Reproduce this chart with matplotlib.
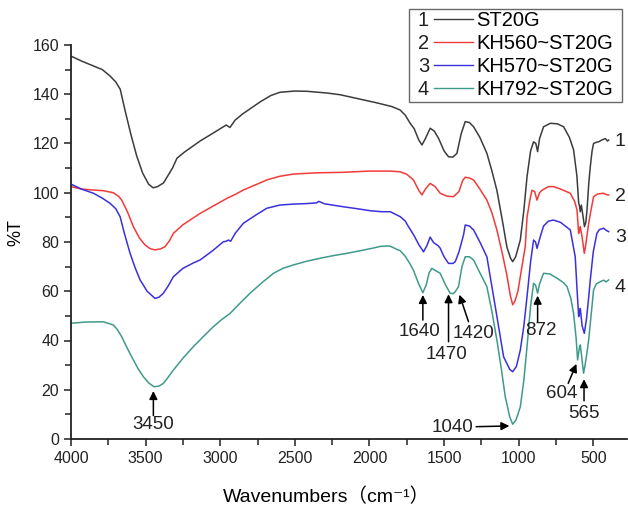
import matplotlib
matplotlib.use("Agg")
import matplotlib.pyplot as plt
from matplotlib.legend_handler import HandlerBase
from matplotlib.lines import Line2D
from matplotlib.text import Text
from matplotlib.path import Path
import numpy as np

plt.rcParams['font.family'] = ['Liberation Sans', 'DejaVu Sans', 'Noto Sans CJK SC']

# ---- data (wavenumber cm-1, %T) ----
wn_st20g = [4000, 3930, 3850, 3790, 3740, 3700, 3670, 3640, 3600, 3560, 3520, 3480, 3450, 3420,
            3380, 3350, 3320, 3290, 3240, 3135, 3040, 2960, 2935, 2900, 2850, 2790, 2730, 2660,
            2600, 2500, 2420, 2285, 2196, 2062, 1950, 1850, 1794, 1760, 1727, 1700, 1670, 1648,
            1625, 1593, 1565, 1537, 1500, 1470, 1440, 1414, 1385, 1358, 1330, 1302, 1260, 1213,
            1180, 1146, 1110, 1079, 1055, 1040, 1020, 989, 965, 944, 920, 900, 885, 873, 860,
            833, 788, 740, 699, 660, 632, 610, 598, 592, 587, 580, 570, 559, 550, 542, 530, 520,
            508, 498, 480, 464, 440, 419, 405, 397]
t_st20g = [155.5, 153.5, 151.5, 150, 147.5, 145, 142, 134, 124, 115, 108, 103.5, 102, 102.5,
           104, 107, 110, 114, 116.5, 121, 124.5, 127.5, 126.5, 129.5, 132, 134.5, 137, 139.5,
           140.8, 141.3, 141.2, 140.5, 139.8, 138, 136.5, 135, 133.6, 131.5, 128.2, 126, 121.5, 119.4,
           122, 126.2, 125, 122.1, 117, 114.6, 114.5, 116, 124, 128.9, 128.5, 126.8, 122.5, 116,
           109, 101, 89, 78, 73.5, 72, 74, 80.8, 93, 106.5, 117, 120.7, 120, 116.7, 122,
           126.8, 128.2, 128, 126.8, 122.5, 117.4, 107, 96, 94.5, 92.3, 95, 91, 86.2, 88, 93, 104, 110.6,
           117, 120, 120.5, 120.7, 121.5, 122, 121, 121.4]

wn_kh560 = [4000, 3930, 3850, 3780, 3716, 3680, 3660, 3620, 3582, 3540, 3504, 3470, 3437, 3400,
            3370, 3340, 3314, 3250, 3180, 3135, 3050, 2956, 2900, 2845, 2760, 2688, 2600, 2509,
            2350, 2174, 2000, 1861, 1794, 1750, 1705, 1670, 1648, 1625, 1593, 1560, 1526, 1480,
            1437, 1400, 1375, 1358, 1330, 1302, 1260, 1213, 1180, 1146, 1110, 1079, 1055, 1040,
            1025, 1005, 989, 970, 956, 944, 925, 911, 893, 877, 860, 844, 800, 767, 720, 654,
            625, 609, 598, 592, 587, 575, 560, 550, 531, 515, 498, 470, 431, 415, 397]
t_kh560 = [102.5, 101.5, 101.1, 100.8, 100, 98.5, 97, 92, 86.2, 81.5, 78.8, 77.3, 76.8, 77.2,
           78.1, 80.5, 83.5, 87, 89.8, 91.6, 94.5, 97.7, 99.3, 101.1, 103.3, 105.2, 106.7, 107.6,
           108.1, 108.3, 108.8, 108.8, 108.5, 107.5, 105.2, 101, 99.1, 101.5, 103.8, 102.5, 99.8, 98.6,
           98.4, 100.5, 105, 106.3, 106, 105.2, 101.5, 97, 92, 84.9, 75.5, 66.5, 58, 54.5,
           56, 60, 65.9, 73, 78, 90, 97, 101, 100.5, 97, 100, 101, 102.5, 102.5, 101.5, 99.8,
           96.5, 93, 83.5, 85, 86.2, 82, 75.4, 79, 87.6, 93, 98.4, 99.5, 99.8, 99.3, 99.1]

wn_kh570 = [4000, 3930, 3850, 3790, 3738, 3700, 3671, 3640, 3604, 3570, 3537, 3490, 3437, 3410,
            3381, 3350, 3314, 3250, 3180, 3135, 3050, 2979, 2960, 2945, 2930, 2900, 2845, 2760,
            2688, 2600, 2509, 2420, 2353, 2340, 2300, 2174, 2080, 1995, 1920, 1861, 1794, 1760,
            1738, 1700, 1670, 1648, 1638, 1615, 1593, 1571, 1540, 1526, 1500, 1470, 1440, 1425,
            1400, 1369, 1358, 1330, 1302, 1260, 1213, 1168, 1130, 1101, 1060, 1040, 1015, 989,
            965, 944, 920, 900, 887, 877, 865, 855, 833, 800, 767, 720, 654, 621, 610, 598, 592,
            587, 575, 560, 545, 530, 520, 500, 476, 460, 431, 415, 397]
t_kh570 = [103.5, 101.5, 99.8, 97.8, 95.7, 93.5, 90.3, 83, 75.4, 69.5, 64.6, 60, 57.1, 57.6,
           59.2, 62, 65.9, 69.3, 71.5, 72.7, 76.5, 80.1, 80.3, 80.8, 80.3, 83.5, 87.6, 91,
           93.7, 95, 95.4, 95.6, 95.9, 96.5, 95.5, 94.3, 93.5, 92.7, 92.3, 92.3, 90.3, 88.5,
           86.2, 82.5, 79, 77, 76, 78.5, 82, 79.8, 78.5, 77.5, 74, 71.3, 71.3, 72,
           76, 83, 86.9, 86.5, 84.9, 80, 74, 57.8, 44, 33.4, 28.3, 27.3, 29.5, 36.1,
           46, 57.8, 72, 80.8, 80, 77.4, 80, 82.2, 86.5, 88.5, 88.9, 88, 84.9, 74, 62, 49.7, 51,
           53, 46, 42.9, 49, 58, 64.6, 76, 83.5, 85, 85.6, 84.8, 84.2]

wn_kh792 = [4000, 3900, 3783, 3716, 3690, 3660, 3620, 3582, 3550, 3515, 3480, 3443, 3410, 3381,
            3350, 3314, 3250, 3180, 3110, 3046, 2990, 2934, 2870, 2800, 2720, 2643, 2580, 2509,
            2420, 2330, 2240, 2151, 2050, 1970, 1928, 1880, 1861, 1816, 1794, 1760, 1727, 1705,
            1670, 1642, 1620, 1600, 1582, 1560, 1526, 1490, 1459, 1440, 1425, 1403, 1380, 1358,
            1330, 1302, 1260, 1213, 1180, 1146, 1115, 1090, 1060, 1040, 1020, 1005, 989, 965,
            944, 920, 900, 887, 873, 860, 833, 790, 743, 700, 676, 650, 632, 615, 605, 598, 592,
            587, 575, 565, 555, 540, 531, 515, 498, 480, 453, 430, 415, 397]
t_kh792 = [47, 47.5, 47.6, 46.3, 44.5, 41.5, 36.5, 32.1, 28.5, 25.3, 22.8, 21.2, 21.5, 22.6,
           25, 28, 32.8, 37.5, 41.8, 45.6, 48.5, 51, 55, 59.2, 63.5, 67.3, 69.3, 70.7,
           72.2, 73.4, 74.5, 75.4, 76.6, 77.6, 78.2, 78.4, 78.3, 77, 76.5, 74.2, 71, 68.5,
           63, 59.4, 62.5, 67.5, 69.3, 68.5, 67.3, 62.5, 59.2, 59, 59.8, 61.9, 70, 74,
           74, 72.7, 67.5, 61.9, 52, 40.2, 28, 17.2, 9, 6, 7.5, 10, 13.1, 24,
           37.5, 54, 63.2, 62.5, 59.2, 63, 67.3, 67, 65.3, 63.5, 61.9, 57, 51, 41, 32.1, 35, 37.5,
           38.2, 32, 26.7, 30, 36, 40.2, 50, 60.5, 63, 63.9, 64.5, 63.8, 64.6]

series_names = ['ST20G', 'KH560~ST20G', 'KH570~ST20G', 'KH792~ST20G']
series_nums = ['1', '2', '3', '4']
colors = ['#3c3c3c', '#f23a3a', '#3b30dc', '#3f9a8a']

# peak labels: text, arrow tip (wn, %T), arrow tail, text position
peak_labels = ['3450', '1640', '1470', '1420', '872', '1040', '604', '565']
peak_tips = [(3448, 19.5), (1642, 58.5), (1470, 58.8), (1397, 58.6), (873, 58.2), (1062, 5.3), (613, 30.5), (562, 24.3)]
peak_tails = [(3448, 9.5), (1642, 48.3), (1470, 39.5), (1336, 47.6), (873, 47.6), (1285, 5.0), (668, 22.6), (562, 15.5)]
peak_text = [(3450, 5.8), (1665, 43.5), (1481, 34.3), (1300, 43.0), (852, 44.2), (1445, 4.5), (710, 18.5), (560, 10.2)]

# ---- figure ----
fig = plt.figure(figsize=(6.28, 5.07), dpi=100)
ax = fig.add_axes([71 / 628, 68 / 507, 556 / 628, 394 / 507])

xs = [wn_st20g, wn_kh560, wn_kh570, wn_kh792]
ys = [t_st20g, t_kh560, t_kh570, t_kh792]
lines = []
for x, y, c, name in zip(xs, ys, colors, series_names):
    ln, = ax.plot(x, y, color=c, lw=1.1, label=name)
    lines.append(ln)

# curve numbers at right end
end_y = [121, 98.5, 82, 61.5]
for n, yv in zip(series_nums, end_y):
    ax.text(319, yv, n, fontsize=14, ha='center', va='center', color='#222222')

for lab, tip, tail, tp in zip(peak_labels, peak_tips, peak_tails, peak_text):
    ax.annotate('', xy=tip, xytext=tail,
                arrowprops=dict(arrowstyle='-|>', color='black', lw=1.1,
                                mutation_scale=12, shrinkA=0, shrinkB=0))
    ax.text(tp[0], tp[1], lab, fontsize=13.5, ha='center', va='center', color='#222222')

ax.set_xlim(4000, 274)
ax.set_ylim(0, 160)
ax.set_xticks(np.arange(4000, 499, -500))
ax.set_xticks(np.arange(3750, 300, -500), minor=True)
ax.set_yticks(np.arange(0, 161, 20))
ax.set_yticks(np.arange(10, 160, 20), minor=True)
ax.tick_params(which='both', direction='out', labelsize=11.5, colors='#222222')
ax.tick_params(which='major', length=5, width=1.1)
ax.tick_params(which='minor', length=4, width=1.1)
for s in ['top', 'right']:
    ax.spines[s].set_visible(False)
for s in ['left', 'bottom']:
    ax.spines[s].set_linewidth(1.3)
    ax.spines[s].set_color('#222222')

ax.set_xlabel('Wavenumbers（cm⁻¹）', fontsize=14)
ax.xaxis.set_label_coords(0.459, -0.147)
ax.xaxis.label.set_va('center')
ax.set_ylabel('%T', fontsize=13)
ax.yaxis.set_label_coords(-0.1, 0.525)
ax.yaxis.label.set_va('center')


class NumHandler(HandlerBase):
    def __init__(self, num):
        super().__init__()
        self.num = num

    def create_artists(self, legend, orig_handle, xdescent, ydescent, width, height, fontsize, trans):
        t = Text(-xdescent, -ydescent, self.num, fontsize=fontsize,
                 ha='left', va='baseline', color='#222222', transform=trans)
        x0 = -xdescent + 0.8 * fontsize
        l = Line2D([x0, width - xdescent], [height / 2 - ydescent] * 2,
                   color=orig_handle.get_color(), lw=1.0, transform=trans)
        return [t, l]


def wide_box(x0, y0, width, height, mutation_size, padx=0.45, pady=0.12):
    # square frame with more room left/right than top/bottom
    px, py = padx * mutation_size, pady * mutation_size
    x0, y0 = x0 - px, y0 - py
    x1, y1 = x0 + width + 2 * px, y0 + height + 2 * py
    return Path([(x0, y0), (x1, y0), (x1, y1), (x0, y1), (x0, y0)], closed=True)


leg = ax.legend(lines, series_names,
                handler_map={ln: NumHandler(n) for ln, n in zip(lines, series_nums)},
                loc='upper right', bbox_to_anchor=(613 / 628, 1 - 11 / 507),
                bbox_transform=fig.transFigure, fontsize=14.5, frameon=True, fancybox=False,
                handlelength=2.75, handletextpad=0.15, labelspacing=0.2, borderpad=0.0,
                borderaxespad=0)
leg.get_frame().set_boxstyle(wide_box)
leg.get_frame().set_edgecolor('#444444')
leg.get_frame().set_linewidth(1.0)

fig.savefig('out.png', dpi=100)
